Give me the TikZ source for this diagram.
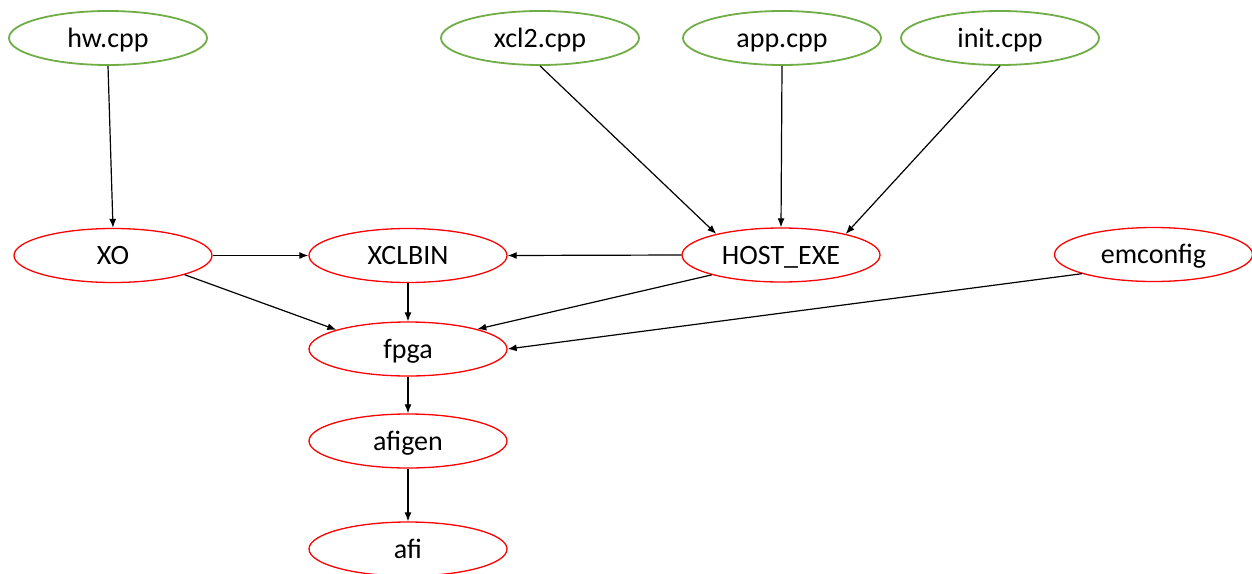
\documentclass[tikz,border=0pt]{standalone}
\usepackage{fontspec}
\setmainfont{Carlito}
\usetikzlibrary{shapes.geometric,arrows.meta}
\definecolor{srcgreen}{RGB}{112,173,71}
\definecolor{tgtred}{RGB}{255,0,0}
\tikzset{
  base/.style={ellipse, minimum width=198pt, minimum height=54pt, inner sep=0pt,
    text height=21pt, text depth=3pt,
    font=\fontsize{28}{32}\selectfont, text=black},
  src/.style={base, draw=srcgreen, line width=1.8pt},
  tgt/.style={base, draw=tgtred, line width=1.3pt},
  link/.style={draw=black, line width=1.2pt, -{Latex[length=9pt,width=7pt]}}
}
\begin{document}
\begin{tikzpicture}[x=1pt,y=-1pt]
\useasboundingbox (0,0) rectangle (1252,573);
\node[src] (hw) at (108,38) {hw.cpp};
\node[src] (xcl2) at (540,38) {xcl2.cpp};
\node[src] (app) at (782,38) {app.cpp};
\node[src] (init) at (1000,38) {init.cpp};
\node[tgt] (xo) at (113,255.5) {XO};
\node[tgt] (xclbin) at (408,255.5) {XCLBIN};
\node[tgt] (host) at (781,255) {HOST\_EXE};
\node[tgt] (emconfig) at (1153.5,254.5) {emconfig};
\node[tgt] (fpga) at (408,349) {fpga};
\node[tgt] (afigen) at (408,441) {afigen};
\node[tgt] (afi) at (408,549) {afi};
\draw[link] (hw.south) -- (xo.north);
\draw[link] (xcl2.south) -- (host.162);
\draw[link] (app.south) -- (host.north);
\draw[link] (init.south) -- (host.18);
\draw[link] (xo.east) -- (xclbin.west);
\draw[link] (host.west) -- (xclbin.east);
\draw[link] (xclbin.south) -- (fpga.north);
\draw[link] (xo.-15) -- (fpga.165);
\draw[link] (host.196) -- (fpga.16);
\draw[link] (emconfig.195) -- (fpga.east);
\draw[link] (fpga.south) -- (afigen.north);
\draw[link] (afigen.south) -- (afi.north);
\end{tikzpicture}
\end{document}
